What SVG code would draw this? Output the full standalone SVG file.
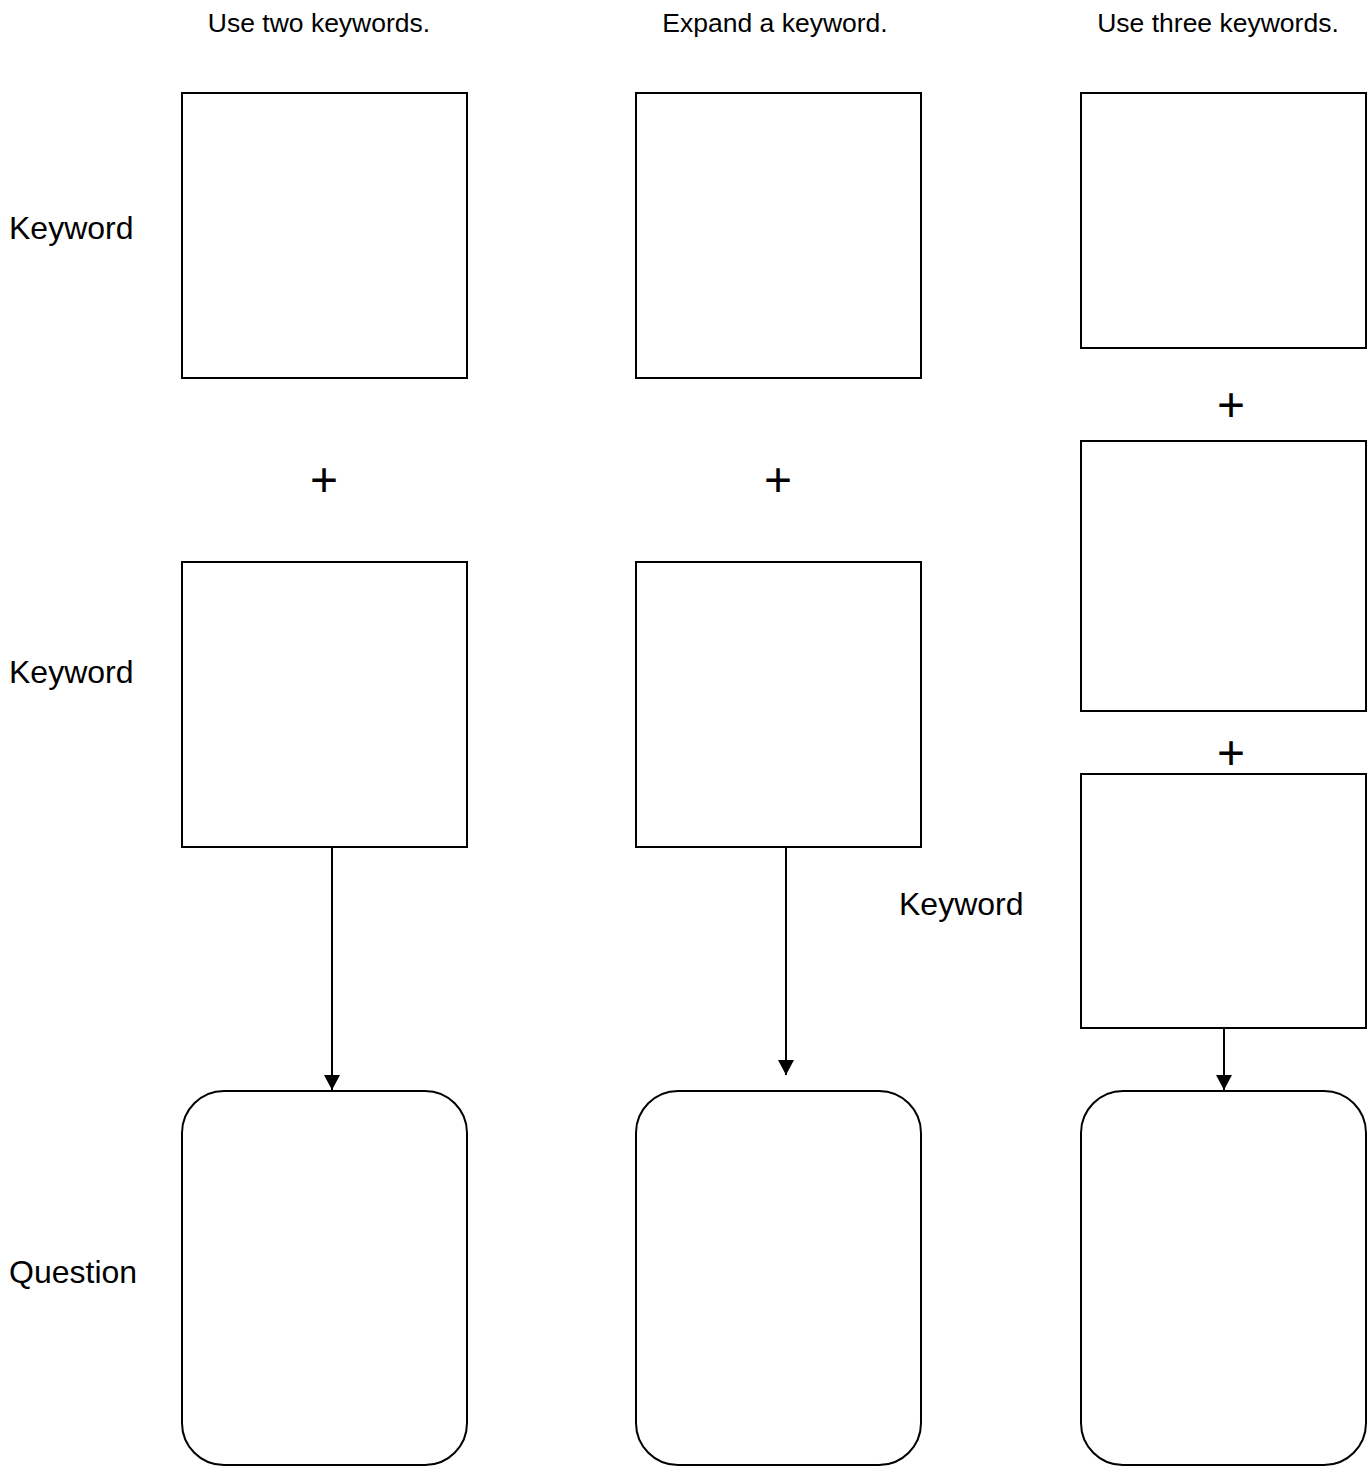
<svg xmlns="http://www.w3.org/2000/svg" width="1367" height="1467" viewBox="0 0 1367 1467">
<style>
.box{fill:#fff;stroke:#000;stroke-width:2}
.hdr{font-family:"Liberation Sans",Arial,sans-serif;font-size:26.5px;fill:#000;text-anchor:middle}
.lbl{font-family:"Liberation Sans",Arial,sans-serif;font-size:32px;fill:#000}
.plus{font-family:"Liberation Sans",Arial,sans-serif;font-size:48px;fill:#000;text-anchor:middle}
.conn{stroke:#000;stroke-width:2;fill:none;marker-end:url(#arr)}
</style>
<defs>
<marker id="arr" markerWidth="16" markerHeight="16" refX="8" refY="15" orient="0" markerUnits="userSpaceOnUse" viewBox="0 0 16 16">
<path d="M0,0 L16,0 L8,15 Z" fill="#000"/>
</marker>
</defs>
<rect width="1367" height="1467" fill="#fff"/>
<g id="headers">
<text class="hdr" x="319" y="32">Use two keywords.</text>
<text class="hdr" x="775" y="32">Expand a keyword.</text>
<text class="hdr" x="1218" y="32">Use three keywords.</text>
</g>
<g id="labels">
<text class="lbl" x="9" y="239">Keyword</text>
<text class="lbl" x="9" y="683">Keyword</text>
<text class="lbl" x="899" y="915">Keyword</text>
<text class="lbl" x="9" y="1283">Question</text>
</g>
<g id="plus">
<text class="plus" x="324" y="496">+</text>
<text class="plus" x="778" y="496">+</text>
<text class="plus" x="1231" y="421">+</text>
<text class="plus" x="1231" y="769">+</text>
</g>
<g id="connectors">
<line class="conn" x1="332" y1="847" x2="332" y2="1090"/>
<line class="conn" x1="786" y1="847" x2="786" y2="1075"/>
<line class="conn" x1="1224" y1="1028" x2="1224" y2="1090"/>
</g>
<g id="c1-k1"><rect class="box" x="182" y="93" width="285" height="285"/></g>
<g id="c1-k2"><rect class="box" x="182" y="562" width="285" height="285"/></g>
<g id="c1-q"><rect class="box" x="182" y="1091" width="285" height="374" rx="42" ry="42"/></g>
<g id="c2-k1"><rect class="box" x="636" y="93" width="285" height="285"/></g>
<g id="c2-k2"><rect class="box" x="636" y="562" width="285" height="285"/></g>
<g id="c2-q"><rect class="box" x="636" y="1091" width="285" height="374" rx="42" ry="42"/></g>
<g id="c3-k1"><rect class="box" x="1081" y="93" width="285" height="255"/></g>
<g id="c3-k2"><rect class="box" x="1081" y="441" width="285" height="270"/></g>
<g id="c3-k3"><rect class="box" x="1081" y="774" width="285" height="254"/></g>
<g id="c3-q"><rect class="box" x="1081" y="1091" width="285" height="374" rx="42" ry="42"/></g>
</svg>
